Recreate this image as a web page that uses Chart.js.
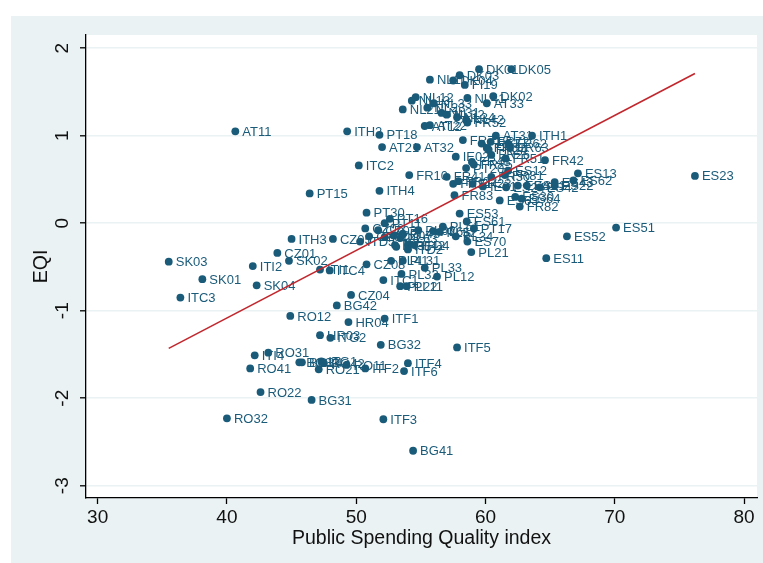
<!DOCTYPE html>
<html>
<head>
<meta charset="utf-8">
<title>EQI and Public Spending Quality index</title>
<script src="https://cdn.jsdelivr.net/npm/chart.js@4.4.1/dist/chart.umd.min.js"></script>
<style>
    html, body { margin: 0; padding: 0; background: #ffffff; }
    #wrap { width: 763px; height: 563px; }
</style>
</head>
<body>
<div id="wrap"><canvas id="myChart" width="763" height="563"></canvas></div>
<script>
// region codes, x = public spending quality index, y = EQI
const regions = [
    "DK01", "DK05", "NL11", "DK04", "DK03", "FI19", "NL12", "NL13", "NL21", "NL41",
    "DK02", "AT33", "NL33", "NL23", "NL31", "NL32", "NL34", "NL42", "FR52", "AT12",
    "AT22", "AT11", "ITH2", "PT18", "AT31", "ITH1", "AT21", "AT32", "FR71", "FR53",
    "FR61", "FR72", "FR62", "FR63", "FR24", "FR26", "IE02", "FR51", "FR42", "ITC2",
    "FR43", "FR25", "PT20", "ES12", "ES13", "ES23", "FR10", "FR41", "FR21", "FR22",
    "FR23", "FR30", "FR81", "IE01", "ES24", "ES41", "ES21", "ES42", "ES43", "ES22",
    "ES62", "PT15", "ITH4", "FR83", "ES63", "ES30", "ES64", "FR82",
    "PT30", "PT16", "PT11", "ES53", "ES61", "PT17", "PL51", "PL61", "PL34", "ES70",
    "CZ06", "CZ02", "ITD5", "CZ03", "ITD3", "CZ07", "PL63", "PL43", "PL62", "PL52",
    "PL42", "ITI3", "ITD2", "ITD4", "ITH5", "PL21", "CZ05", "ITH3", "CZ01", "SK03",
    "ITI2", "SK02", "ITI1", "ITC4", "CZ08", "PL41", "PL31", "PL33", "PL32", "PL12",
    "ITC1", "PL22", "PL11", "ES11", "ES52", "ES51", "SK01", "SK04", "ITC3", "CZ04",
    "BG42", "RO12", "HR04", "ITF1", "HR03", "ITG2", "BG32", "ITF5", "RO31", "ITI4",
    "BG33", "BG34", "ITG1", "RO42", "RO11", "ITF2", "ITF4", "ITF6", "RO41", "RO21",
    "RO22", "BG31", "RO32", "ITF3", "BG41"
];
const psqi = [
    59.5, 62.0, 55.7, 57.5, 58.0, 58.4, 54.6, 54.3, 53.6, 58.6,
    60.6, 60.1, 56.0, 55.5, 56.6, 57.0, 57.8, 58.5, 58.6, 55.3,
    55.7, 40.65, 49.3, 51.8, 60.8, 63.6, 52.0, 54.7, 58.25, 59.7,
    60.1, 60.4, 61.75, 61.9, 60.25, 60.45, 57.7, 61.55, 64.6, 50.2,
    58.95, 59.1, 58.5, 61.75, 67.15, 76.2, 54.1, 57.0, 57.5, 57.9,
    59.0, 60.45, 61.5, 59.8, 61.6, 62.5, 63.2, 64.2, 65.35, 65.35,
    66.8, 46.4, 51.8, 57.6, 61.1, 62.3, 62.8, 62.65,
    50.8, 52.6, 52.2, 58.0, 58.55, 59.1, 56.7, 55.95, 57.7, 58.6,
    50.7, 51.0, 50.3, 51.7, 52.2, 52.9, 53.4, 53.6, 54.8, 56.45,
    54.0, 53.0, 54.0, 54.5, 53.1, 58.9, 48.2, 45.0, 43.9, 35.5,
    42.0, 44.8, 47.2, 47.95, 50.8, 52.7, 53.6, 55.3, 53.5, 56.25,
    52.1, 53.4, 53.9, 64.7, 66.3, 70.1, 38.1, 42.3, 36.4, 49.6,
    48.5, 44.9, 49.4, 52.2, 47.2, 48.0, 51.9, 57.8, 43.2, 42.15,
    45.6, 45.8, 47.3, 47.5, 49.25, 50.7, 54.0, 53.7, 41.8, 47.1,
    42.6, 46.55, 40.0, 52.1, 54.4
];
const eqi = [
    1.76, 1.76, 1.64, 1.63, 1.69, 1.58, 1.44, 1.40, 1.30, 1.43,
    1.45, 1.37, 1.37, 1.32, 1.26, 1.24, 1.21, 1.18, 1.15, 1.11,
    1.12, 1.05, 1.05, 1.01, 1.00, 1.00, 0.87, 0.87, 0.95, 0.91,
    0.86, 0.93, 0.91, 0.86, 0.84, 0.78, 0.76, 0.74, 0.72, 0.66,
    0.70, 0.67, 0.63, 0.60, 0.57, 0.54, 0.55, 0.53, 0.45, 0.48,
    0.45, 0.53, 0.55, 0.42, 0.41, 0.43, 0.43, 0.41, 0.47, 0.43,
    0.49, 0.34, 0.37, 0.32, 0.26, 0.30, 0.28, 0.19,
    0.12, 0.05, 0.00, 0.11, 0.02, -0.06, -0.04, -0.09, -0.15, -0.21,
    -0.06, -0.15, -0.21, -0.08, -0.16, -0.14, -0.17, -0.12, -0.08, -0.10,
    -0.25, -0.25, -0.30, -0.25, -0.27, -0.33, -0.18, -0.18, -0.34, -0.44,
    -0.49, -0.43, -0.53, -0.54, -0.47, -0.43, -0.43, -0.51, -0.58, -0.61,
    -0.65, -0.72, -0.72, -0.40, -0.15, -0.05, -0.64, -0.71, -0.85, -0.82,
    -0.94, -1.06, -1.13, -1.09, -1.28, -1.31, -1.39, -1.42, -1.48, -1.51,
    -1.59, -1.59, -1.58, -1.60, -1.62, -1.66, -1.60, -1.69, -1.66, -1.67,
    -1.93, -2.02, -2.23, -2.24, -2.60
];
// fitted line end points
const fitX = [35.5, 76.2];
const fitY = [-1.43, 1.71];

const xTicks = [30, 40, 50, 60, 70, 80];
const yTicks = [-3, -2, -1, 0, 1, 2];

const fontFamily = "'Liberation Sans', Arial, Helvetica, sans-serif";
const markerColor = "#1a5b7a";
const gridColor = "#eaf2f3";

Chart.defaults.font.family = fontFamily;

// light blue frame with white plot region
const backdrop = {
    id: "backdrop",
    beforeDraw(chart) {
        const { ctx, chartArea: a } = chart;
        ctx.save();
        ctx.fillStyle = "#ffffff";
        ctx.fillRect(0, 0, chart.width, chart.height);
        ctx.fillStyle = gridColor;
        ctx.fillRect(11, 16, chart.width - 11, chart.height - 16);
        ctx.fillStyle = "#ffffff";
        ctx.fillRect(a.left, a.top, a.right - a.left, a.bottom - a.top);
        ctx.restore();
    },
};

// region code next to each marker
const pointLabels = {
    id: "pointLabels",
    afterDatasetDraw(chart, args) {
        if (args.index !== 0) return;
        const ctx = chart.ctx;
        ctx.save();
        ctx.font = "13px " + fontFamily;
        ctx.fillStyle = markerColor;
        ctx.textBaseline = "middle";
        args.meta.data.forEach((pt, i) => {
            ctx.fillText(regions[i], pt.x + 7, pt.y + 1);
        });
        ctx.restore();
    },
};

// y tick labels turned like in Stata
const yTickLabels = {
    id: "yTickLabels",
    afterDraw(chart) {
        const ctx = chart.ctx;
        const y = chart.scales.y;
        ctx.save();
        ctx.font = "19px " + fontFamily;
        ctx.fillStyle = "#111111";
        ctx.textAlign = "center";
        ctx.textBaseline = "middle";
        y.ticks.forEach((t) => {
            const py = y.getPixelForValue(t.value);
            ctx.save();
            ctx.translate(63, py);
            ctx.rotate(-Math.PI / 2);
            ctx.fillText(String(t.value), 0, 0);
            ctx.restore();
        });
        ctx.restore();
    },
};

const ctx = document.getElementById("myChart");

new Chart(ctx, {
    type: "scatter",
    data: {
        datasets: [
            {
                label: "EQI",
                data: psqi.map((x, i) => ({ x: x, y: eqi[i] })),
                backgroundColor: markerColor,
                borderColor: markerColor,
                borderWidth: 0,
                pointRadius: 3.9,
                pointHoverRadius: 3.9,
                order: 1,
            },
            {
                label: "Fitted values",
                data: fitX.map((x, i) => ({ x: x, y: fitY[i] })),
                showLine: true,
                borderColor: "#c1272d",
                borderWidth: 1.6,
                pointRadius: 0,
                fill: false,
                order: 0,
            },
        ],
    },
    options: {
        responsive: false,
        animation: false,
        devicePixelRatio: 1,
        layout: { padding: { left: 0, top: 35, right: 6, bottom: 0 } },
        plugins: {
            legend: { display: false },
            tooltip: { enabled: false },
        },
        scales: {
            x: {
                type: "linear",
                min: 29.1,
                max: 81,
                afterBuildTicks: (s) => {
                    s.ticks = xTicks.map((v) => ({ value: v }));
                },
                afterFit: (s) => {
                    s.height = 65;
                },
                grid: {
                    drawOnChartArea: false,
                    drawTicks: true,
                    tickLength: 6,
                    tickColor: "#000000",
                    tickWidth: 1.3,
                },
                border: { color: "#000000", width: 1.3 },
                ticks: {
                    color: "#111111",
                    font: { size: 19 },
                    padding: 2,
                    maxRotation: 0,
                    autoSkip: false,
                },
                title: {
                    display: true,
                    text: "Public Spending Quality index",
                    color: "#111111",
                    font: { size: 19.5 },
                    padding: { top: 0, bottom: 13 },
                },
            },
            y: {
                type: "linear",
                min: -3.14,
                max: 2.15,
                afterBuildTicks: (s) => {
                    s.ticks = yTicks.map((v) => ({ value: v }));
                },
                afterFit: (s) => {
                    s.width = 86;
                },
                grid: {
                    color: gridColor,
                    lineWidth: 1.6,
                    tickLength: 6,
                    tickColor: "#000000",
                    tickWidth: 1.3,
                },
                border: { color: "#000000", width: 1.3 },
                ticks: { display: false },
                title: {
                    display: true,
                    text: "EQI",
                    color: "#111111",
                    font: { size: 19.5 },
                    padding: { top: 30, bottom: 0 },
                },
            },
        },
    },
    plugins: [backdrop, pointLabels, yTickLabels],
});
</script>
</body>
</html>
